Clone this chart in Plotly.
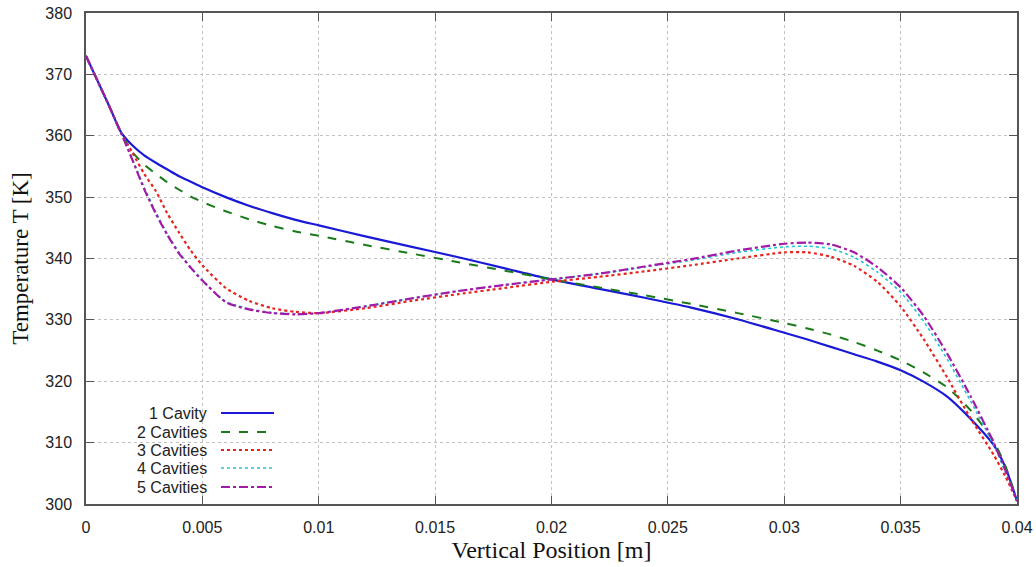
import plotly.graph_objects as go

# ---- data ----
x_pos = [0, 0.001, 0.0015, 0.002, 0.0025, 0.003, 0.0035, 0.004, 0.0045, 0.005,
         0.006, 0.007, 0.008, 0.009, 0.010, 0.012, 0.014, 0.016, 0.018, 0.020,
         0.022, 0.024, 0.026, 0.028, 0.030, 0.031, 0.032, 0.033, 0.034, 0.035,
         0.036, 0.037, 0.038, 0.039, 0.0395, 0.040]

t_1cavity = [373, 364.8, 360.6, 358.4, 356.8, 355.6, 354.5, 353.4, 352.5, 351.6,
             350.0, 348.6, 347.4, 346.3, 345.4, 343.6, 341.9, 340.2, 338.4, 336.6,
             335.1, 333.6, 332.0, 330.1, 327.9, 326.8, 325.6, 324.4, 323.2, 321.8,
             319.9, 317.5, 313.9, 309.6, 306.0, 300.5]

t_2cavities = [373, 364.8, 360.5, 357.3, 355.3, 353.8, 352.4, 351.2, 350.1, 349.2,
               347.7, 346.4, 345.3, 344.4, 343.7, 342.2, 340.8, 339.4, 338.0, 336.6,
               335.3, 334.0, 332.6, 331.1, 329.5, 328.6, 327.6, 326.4, 325.0, 323.4,
               321.4, 319.0, 315.3, 310.2, 306.2, 300.5]

t_3cavities = [373, 364.8, 360.5, 357.2, 353.8, 351.0, 347.3, 344.2, 341.3, 338.9,
               335.2, 333.1, 331.9, 331.3, 331.1, 331.9, 333.1, 334.2, 335.2, 336.2,
               337.0, 337.9, 338.9, 340.0, 341.0, 341.0, 340.3, 338.8, 336.2, 332.2,
               326.8, 320.6, 314.0, 308.0, 304.5, 300.5]

t_4cavities = [373, 364.8, 360.5, 356.2, 351.6, 347.6, 344.0, 341.0, 338.6, 336.5,
               333.0, 331.8, 331.2, 331.0, 331.1, 332.2, 333.5, 334.7, 335.7, 336.6,
               337.5, 338.6, 339.7, 341.0, 341.9, 342.0, 341.6, 340.2, 337.8, 334.5,
               329.7, 323.6, 316.8, 309.6, 305.2, 300.5]

t_5cavities = [373, 364.8, 360.5, 356.0, 351.3, 347.3, 343.8, 340.8, 338.5, 336.4,
               332.9, 331.7, 331.1, 330.9, 331.1, 332.2, 333.5, 334.7, 335.7, 336.6,
               337.5, 338.7, 339.9, 341.3, 342.4, 342.6, 342.3, 341.0, 338.6, 335.3,
               330.6, 324.5, 317.6, 310.0, 305.5, 300.5]

series_names = ["1 Cavity", "2 Cavities", "3 Cavities", "4 Cavities", "5 Cavities"]
series_values = [t_1cavity, t_2cavities, t_3cavities, t_4cavities, t_5cavities]

x_ticks = [0, 0.005, 0.01, 0.015, 0.02, 0.025, 0.03, 0.035, 0.04]
x_tick_labels = ["0", "0.005", "0.01", "0.015", "0.02", "0.025", "0.03", "0.035", "0.04"]
y_ticks = [300, 310, 320, 330, 340, 350, 360, 370, 380]

# ---- styles ----
colors = ["#1a1ad6", "#1a7a1a", "#e8231e", "#22c6cc", "#a41aa8"]
dashes = ["solid", "dash", "dot", "dot", "dashdot"]
widths = [2.2, 2.0, 2.2, 1.6, 2.2]

fig = go.Figure()
for name, vals, c, d, w in zip(series_names, series_values, colors, dashes, widths):
    fig.add_trace(go.Scatter(x=x_pos, y=vals, mode="lines", name=name,
                             line=dict(color=c, dash=d, width=w, shape="spline", smoothing=0.6),
                             showlegend=False))

# custom gnuplot-style legend: text right-aligned, sample line to the right
W, H = 1036, 567
L, R, T, B = 86, 19, 13, 63
pw = W - L - R
ph = H - T - B
row_y = [413, 432, 450, 468, 487]
for name, c, d, w, py in zip(series_names, colors, dashes, widths, row_y):
    yp = (H - B - py) / ph
    fig.add_annotation(x=(209 - L) / pw, y=yp, xref="paper", yref="paper",
                       text=name, showarrow=False, xanchor="right", yanchor="middle",
                       font=dict(family="Liberation Sans, Arial, sans-serif", size=16, color="#222"))
    fig.add_shape(type="line", xref="paper", yref="paper",
                  x0=(221 - L) / pw, x1=(274 - L) / pw, y0=yp, y1=yp,
                  line=dict(color=c, dash=d, width=w))

axis_common = dict(
    showline=True, linecolor="#555", linewidth=1.5, mirror="ticks",
    ticks="inside", ticklen=8, tickcolor="#555", tickwidth=1,
    showgrid=True, gridcolor="#c2c2c2", griddash="dot", gridwidth=1,
    zeroline=False, automargin=False,
    tickfont=dict(family="Liberation Sans, Arial, sans-serif", size=16, color="#222"),
)

fig.update_xaxes(range=[0, 0.04], tickvals=x_ticks, ticktext=x_tick_labels,
                 title=dict(text="Vertical Position [m]", standoff=6,
                            font=dict(family="Liberation Serif, Times New Roman, serif", size=24, color="#111")),
                 ticklabelstandoff=8, **axis_common)
fig.update_yaxes(range=[300, 380], tickvals=y_ticks,
                 title=dict(text="Temperature T [K]", standoff=10,
                            font=dict(family="Liberation Serif, Times New Roman, serif", size=23, color="#111")),
                 ticklabelstandoff=9, **axis_common)

fig.update_layout(width=W, height=H,
                  margin=dict(l=L, r=R, t=T, b=B),
                  plot_bgcolor="white", paper_bgcolor="white")

fig.write_html("out.html", config={"displayModeBar": False},
               post_script="document.body.style.margin='0px';document.body.style.overflow='hidden';")
